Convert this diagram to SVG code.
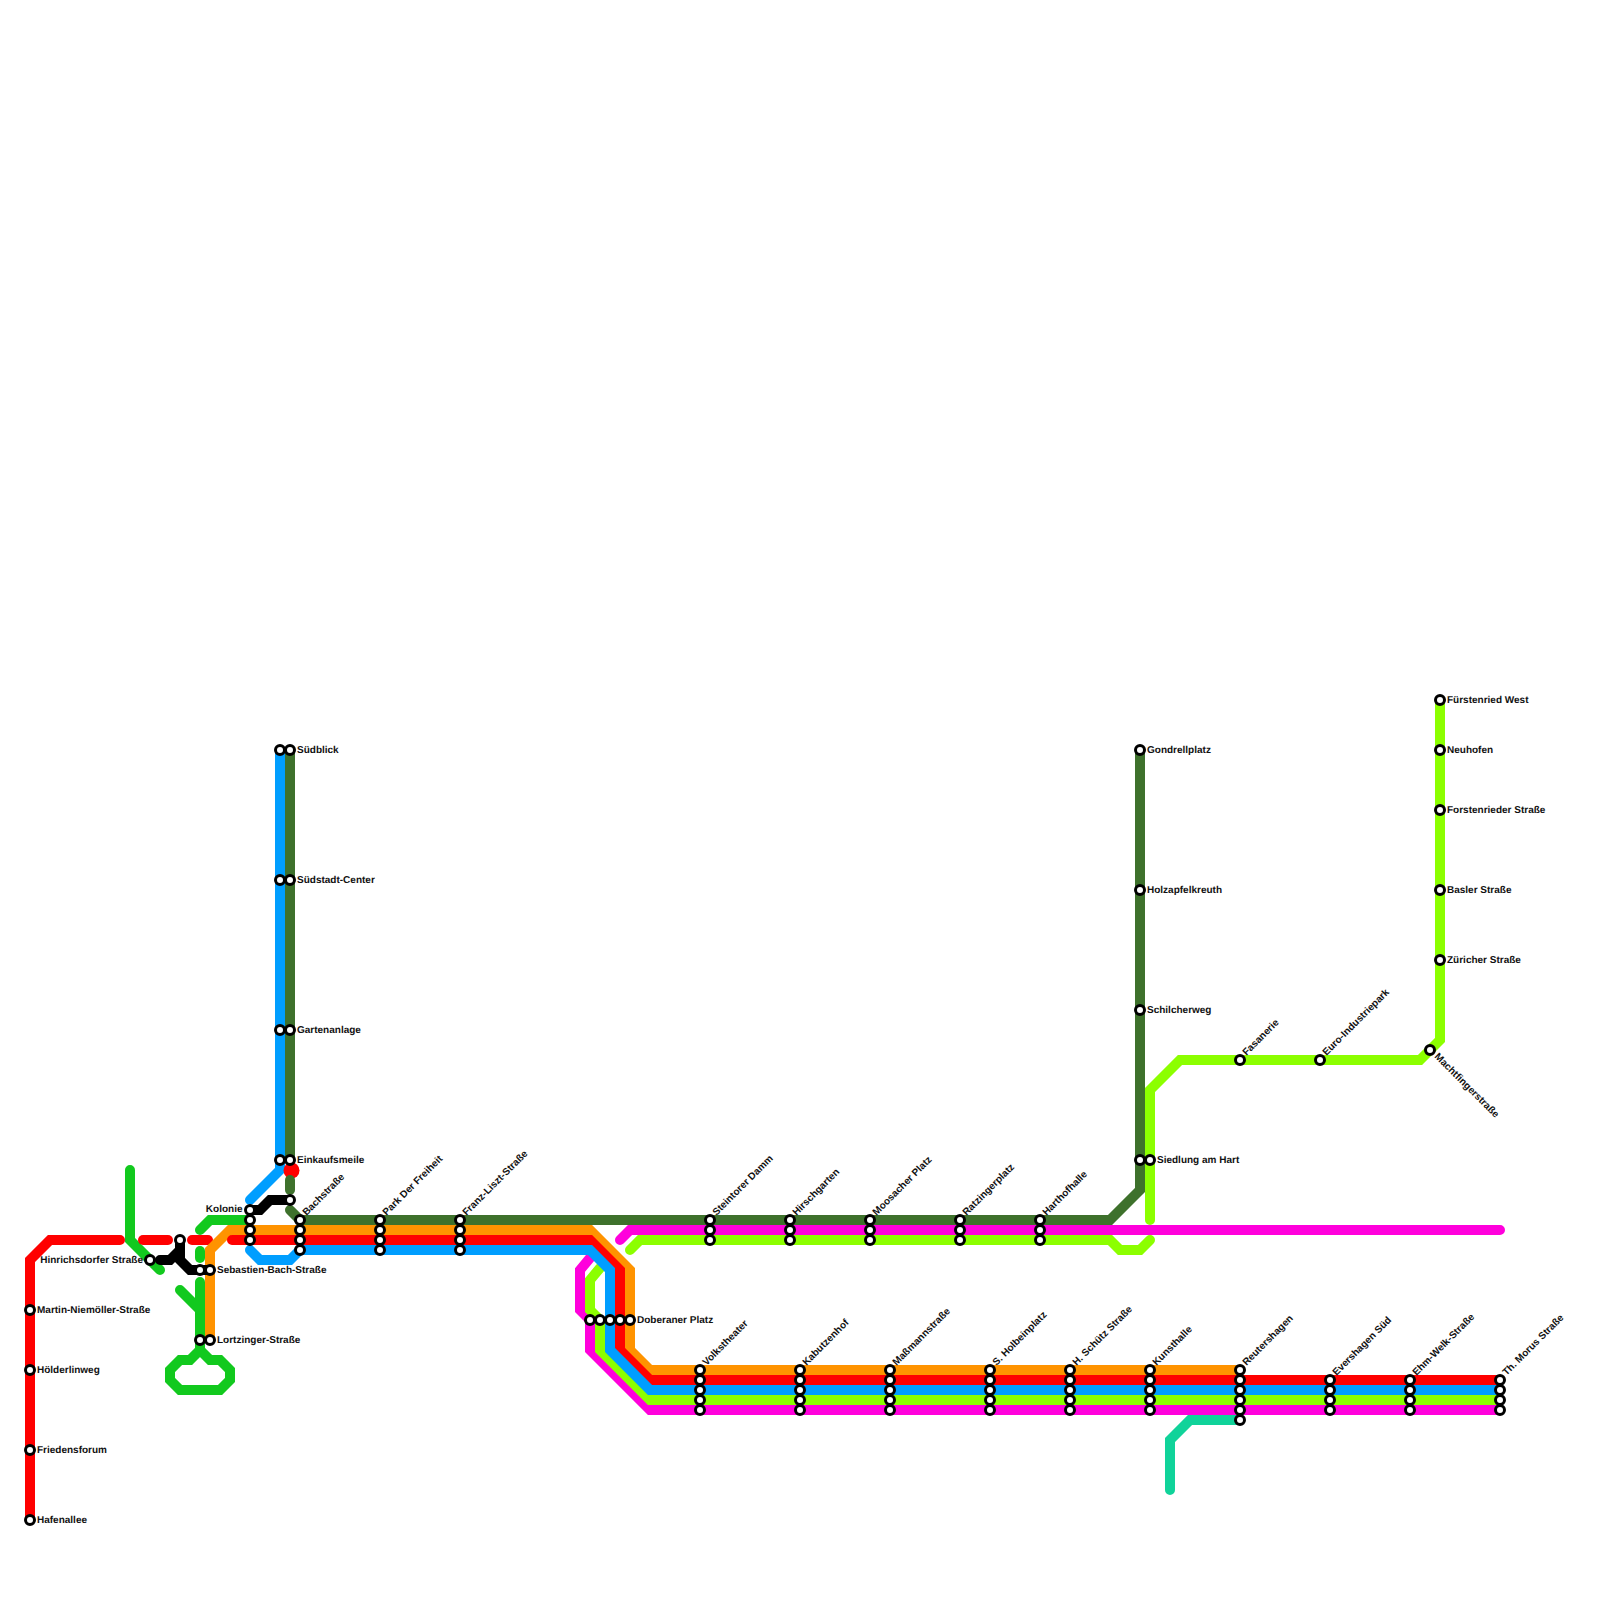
<svg xmlns="http://www.w3.org/2000/svg" width="1600" height="1600" viewBox="0 0 1600 1600">
<style>
.l{fill:none;stroke-width:10;stroke-linecap:round;stroke-linejoin:miter}
.red{stroke:#ff0000}.org{stroke:#ff9300}.blu{stroke:#009eff}.lim{stroke:#8cff00}.mag{stroke:#ff00dc}.dgr{stroke:#3e712c}.grn{stroke:#12c91e}.blk{stroke:#000}.tea{stroke:#10d39a}
circle.s{fill:#fff;stroke:#000;stroke-width:3;r:4.5px}
text{font-family:"Liberation Sans",Arial,sans-serif;font-size:10px;font-weight:bold;fill:#111;text-rendering:geometricPrecision}
.e{text-anchor:end}
</style>
<g id="connectors">
<path class="l grn" d="M130 1170V1240L160 1270"/>
<path class="l grn" d="M200 1230L210 1220H250"/>
<path class="l grn" d="M200 1251V1258"/>
<path class="l grn" d="M200 1282V1350L190 1360H180L170 1370V1380L180 1390H220L230 1380V1370L220 1360H210L200 1350"/>
<path class="l grn" d="M180 1290L200 1310"/>
<path class="l red" d="M30 1520V1260L50 1240H120"/>
<path class="l red" d="M143 1240H168"/>
<path class="l red" d="M192 1240H208"/>
<path class="l mag" d="M590 1258L580 1270V1310L590 1320V1350L650 1410H1500"/>
<path class="l lim" d="M600 1268L590 1280V1310L600 1320V1350L650 1400H1500"/>
<path class="l org" d="M210 1340V1250L230 1230H590L630 1270V1350L650 1370H1240"/>
<path class="l red" d="M232 1240H590L620 1270V1350L650 1380H1500"/>
<path class="l blu" d="M250 1200L280 1170V750"/>
<path class="l blu" d="M250 1250L260 1260H290L300 1250H590L610 1270V1350L650 1390H1500"/>
<path class="l dgr" d="M290 750V1160"/>
<circle cx="291.500" cy="1170.500" r="8" fill="#ff0000"/>
<path class="l dgr" d="M290 1180V1190"/>
<path class="l dgr" d="M290 1210L300 1220H1110L1140 1190V750"/>
<path class="l mag" d="M620 1240L630 1230H1500"/>
<path class="l lim" d="M630 1250L640 1240H1110L1120 1250H1140L1150 1240"/>
<path class="l lim" d="M1150 1220V1090L1180 1060H1420L1440 1040V700"/>
<path class="l tea" d="M1170 1490V1440L1190 1420H1240"/>
<path class="l blk" d="M160 1260H170L180 1250"/>
<path class="l blk" d="M180 1240V1260L190 1270H210"/>
<path class="l blk" d="M250 1210H260L270 1200H290"/>
</g>
<g id="n-hafenallee"><circle class="s" cx="30" cy="1520" r="4.500"/><text x="37" y="1522.500">Hafenallee</text></g>
<g id="n-friedensforum"><circle class="s" cx="30" cy="1450" r="4.500"/><text x="37" y="1452.500">Friedensforum</text></g>
<g id="n-hoelderlinweg"><circle class="s" cx="30" cy="1370" r="4.500"/><text x="37" y="1372.500">Hölderlinweg</text></g>
<g id="n-martin"><circle class="s" cx="30" cy="1310" r="4.500"/><text x="37" y="1312.500">Martin-Niemöller-Straße</text></g>
<g id="n-hinrichsdorfer"><circle class="s" cx="150" cy="1260" r="4.500"/><text class="e" x="143" y="1262.500">Hinrichsdorfer Straße</text></g>
<g id="n-x180"><circle class="s" cx="180" cy="1240" r="4.500"/></g>
<g id="n-sebastian"><circle class="s" cx="200" cy="1270" r="4.500"/><circle class="s" cx="210" cy="1270" r="4.500"/><text x="217" y="1272.500">Sebastien-Bach-Straße</text></g>
<g id="n-lortzinger"><circle class="s" cx="200" cy="1340" r="4.500"/><circle class="s" cx="210" cy="1340" r="4.500"/><text x="217" y="1342.500">Lortzinger-Straße</text></g>
<g id="n-kolonie"><circle class="s" cx="250" cy="1210" r="4.500"/><circle class="s" cx="250" cy="1220" r="4.500"/><circle class="s" cx="250" cy="1230" r="4.500"/><circle class="s" cx="250" cy="1240" r="4.500"/><text class="e" x="242.500" y="1212">Kolonie</text></g>
<g id="n-x290"><circle class="s" cx="290" cy="1200" r="4.500"/></g>
<g id="n-suedblick"><circle class="s" cx="280" cy="750" r="4.500"/><circle class="s" cx="290" cy="750" r="4.500"/><text x="297" y="752.500">Südblick</text></g>
<g id="n-suedstadt"><circle class="s" cx="280" cy="880" r="4.500"/><circle class="s" cx="290" cy="880" r="4.500"/><text x="297" y="882.500">Südstadt-Center</text></g>
<g id="n-gartenanlage"><circle class="s" cx="280" cy="1030" r="4.500"/><circle class="s" cx="290" cy="1030" r="4.500"/><text x="297" y="1032.500">Gartenanlage</text></g>
<g id="n-einkaufsmeile"><circle class="s" cx="280" cy="1160" r="4.500"/><circle class="s" cx="290" cy="1160" r="4.500"/><text x="297" y="1162.500">Einkaufsmeile</text></g>
<g id="n-bachstrasse"><circle class="s" cx="300" cy="1220" r="4.500"/><circle class="s" cx="300" cy="1230" r="4.500"/><circle class="s" cx="300" cy="1240" r="4.500"/><circle class="s" cx="300" cy="1250" r="4.500"/><text transform="translate(306.500 1216) rotate(-45)">Bachstraße</text></g>
<g id="n-park"><circle class="s" cx="380" cy="1220" r="4.500"/><circle class="s" cx="380" cy="1230" r="4.500"/><circle class="s" cx="380" cy="1240" r="4.500"/><circle class="s" cx="380" cy="1250" r="4.500"/><text transform="translate(386.500 1216) rotate(-45)">Park Der Freiheit</text></g>
<g id="n-franz"><circle class="s" cx="460" cy="1220" r="4.500"/><circle class="s" cx="460" cy="1230" r="4.500"/><circle class="s" cx="460" cy="1240" r="4.500"/><circle class="s" cx="460" cy="1250" r="4.500"/><text transform="translate(466.500 1216) rotate(-45)">Franz-Liszt-Straße</text></g>
<g id="n-doberaner"><circle class="s" cx="590" cy="1320" r="4.500"/><circle class="s" cx="600" cy="1320" r="4.500"/><circle class="s" cx="610" cy="1320" r="4.500"/><circle class="s" cx="620" cy="1320" r="4.500"/><circle class="s" cx="630" cy="1320" r="4.500"/><text x="637" y="1322.500">Doberaner Platz</text></g>
<g id="n-steintorer"><circle class="s" cx="710" cy="1220" r="4.500"/><circle class="s" cx="710" cy="1230" r="4.500"/><circle class="s" cx="710" cy="1240" r="4.500"/><text transform="translate(716.500 1216) rotate(-45)">Steintorer Damm</text></g>
<g id="n-hirschgarten"><circle class="s" cx="790" cy="1220" r="4.500"/><circle class="s" cx="790" cy="1230" r="4.500"/><circle class="s" cx="790" cy="1240" r="4.500"/><text transform="translate(796.500 1216) rotate(-45)">Hirschgarten</text></g>
<g id="n-moosacher"><circle class="s" cx="870" cy="1220" r="4.500"/><circle class="s" cx="870" cy="1230" r="4.500"/><circle class="s" cx="870" cy="1240" r="4.500"/><text transform="translate(876.500 1216) rotate(-45)">Moosacher Platz</text></g>
<g id="n-ratzinger"><circle class="s" cx="960" cy="1220" r="4.500"/><circle class="s" cx="960" cy="1230" r="4.500"/><circle class="s" cx="960" cy="1240" r="4.500"/><text transform="translate(966.500 1216) rotate(-45)">Ratzingerplatz</text></g>
<g id="n-harthof"><circle class="s" cx="1040" cy="1220" r="4.500"/><circle class="s" cx="1040" cy="1230" r="4.500"/><circle class="s" cx="1040" cy="1240" r="4.500"/><text transform="translate(1046.500 1216) rotate(-45)">Harthofhalle</text></g>
<g id="n-volkstheater"><circle class="s" cx="700" cy="1370" r="4.500"/><circle class="s" cx="700" cy="1380" r="4.500"/><circle class="s" cx="700" cy="1390" r="4.500"/><circle class="s" cx="700" cy="1400" r="4.500"/><circle class="s" cx="700" cy="1410" r="4.500"/><text transform="translate(706.500 1366) rotate(-45)">Volkstheater</text></g>
<g id="n-kabutzenhof"><circle class="s" cx="800" cy="1370" r="4.500"/><circle class="s" cx="800" cy="1380" r="4.500"/><circle class="s" cx="800" cy="1390" r="4.500"/><circle class="s" cx="800" cy="1400" r="4.500"/><circle class="s" cx="800" cy="1410" r="4.500"/><text transform="translate(806.500 1366) rotate(-45)">Kabutzenhof</text></g>
<g id="n-massmann"><circle class="s" cx="890" cy="1370" r="4.500"/><circle class="s" cx="890" cy="1380" r="4.500"/><circle class="s" cx="890" cy="1390" r="4.500"/><circle class="s" cx="890" cy="1400" r="4.500"/><circle class="s" cx="890" cy="1410" r="4.500"/><text transform="translate(896.500 1366) rotate(-45)">Maßmannstraße</text></g>
<g id="n-holbein"><circle class="s" cx="990" cy="1370" r="4.500"/><circle class="s" cx="990" cy="1380" r="4.500"/><circle class="s" cx="990" cy="1390" r="4.500"/><circle class="s" cx="990" cy="1400" r="4.500"/><circle class="s" cx="990" cy="1410" r="4.500"/><text transform="translate(996.500 1366) rotate(-45)">S. Holbeinplatz</text></g>
<g id="n-schuetz"><circle class="s" cx="1070" cy="1370" r="4.500"/><circle class="s" cx="1070" cy="1380" r="4.500"/><circle class="s" cx="1070" cy="1390" r="4.500"/><circle class="s" cx="1070" cy="1400" r="4.500"/><circle class="s" cx="1070" cy="1410" r="4.500"/><text transform="translate(1076.500 1366) rotate(-45)">H. Schütz Straße</text></g>
<g id="n-kunsthalle"><circle class="s" cx="1150" cy="1370" r="4.500"/><circle class="s" cx="1150" cy="1380" r="4.500"/><circle class="s" cx="1150" cy="1390" r="4.500"/><circle class="s" cx="1150" cy="1400" r="4.500"/><circle class="s" cx="1150" cy="1410" r="4.500"/><text transform="translate(1156.500 1366) rotate(-45)">Kunsthalle</text></g>
<g id="n-reutershagen"><circle class="s" cx="1240" cy="1370" r="4.500"/><circle class="s" cx="1240" cy="1380" r="4.500"/><circle class="s" cx="1240" cy="1390" r="4.500"/><circle class="s" cx="1240" cy="1400" r="4.500"/><circle class="s" cx="1240" cy="1410" r="4.500"/><circle class="s" cx="1240" cy="1420" r="4.500"/><text transform="translate(1246.500 1366) rotate(-45)">Reutershagen</text></g>
<g id="n-evershagen"><circle class="s" cx="1330" cy="1380" r="4.500"/><circle class="s" cx="1330" cy="1390" r="4.500"/><circle class="s" cx="1330" cy="1400" r="4.500"/><circle class="s" cx="1330" cy="1410" r="4.500"/><text transform="translate(1336.500 1376) rotate(-45)">Evershagen Süd</text></g>
<g id="n-ehm"><circle class="s" cx="1410" cy="1380" r="4.500"/><circle class="s" cx="1410" cy="1390" r="4.500"/><circle class="s" cx="1410" cy="1400" r="4.500"/><circle class="s" cx="1410" cy="1410" r="4.500"/><text transform="translate(1416.500 1376) rotate(-45)">Ehm-Welk-Straße</text></g>
<g id="n-morus"><circle class="s" cx="1500" cy="1380" r="4.500"/><circle class="s" cx="1500" cy="1390" r="4.500"/><circle class="s" cx="1500" cy="1400" r="4.500"/><circle class="s" cx="1500" cy="1410" r="4.500"/><text transform="translate(1506.500 1376) rotate(-45)">Th. Morus Straße</text></g>
<g id="n-gondrell"><circle class="s" cx="1140" cy="750" r="4.500"/><text x="1147" y="752.500">Gondrellplatz</text></g>
<g id="n-holzapfel"><circle class="s" cx="1140" cy="890" r="4.500"/><text x="1147" y="892.500">Holzapfelkreuth</text></g>
<g id="n-schilcher"><circle class="s" cx="1140" cy="1010" r="4.500"/><text x="1147" y="1012.500">Schilcherweg</text></g>
<g id="n-siedlung"><circle class="s" cx="1140" cy="1160" r="4.500"/><circle class="s" cx="1150" cy="1160" r="4.500"/><text x="1157" y="1162.500">Siedlung am Hart</text></g>
<g id="n-fasanerie"><circle class="s" cx="1240" cy="1060" r="4.500"/><text transform="translate(1246.500 1056) rotate(-45)">Fasanerie</text></g>
<g id="n-euro"><circle class="s" cx="1320" cy="1060" r="4.500"/><text transform="translate(1326.500 1056) rotate(-45)">Euro-Industriepark</text></g>
<g id="n-machtl"><circle class="s" cx="1430" cy="1050" r="4.500"/><text transform="translate(1434 1057) rotate(45)">Machtfingerstraße</text></g>
<g id="n-fuerstenried"><circle class="s" cx="1440" cy="700" r="4.500"/><text x="1447" y="702.500">Fürstenried West</text></g>
<g id="n-neuhofen"><circle class="s" cx="1440" cy="750" r="4.500"/><text x="1447" y="752.500">Neuhofen</text></g>
<g id="n-forstenrieder"><circle class="s" cx="1440" cy="810" r="4.500"/><text x="1447" y="812.500">Forstenrieder Straße</text></g>
<g id="n-basler"><circle class="s" cx="1440" cy="890" r="4.500"/><text x="1447" y="892.500">Basler Straße</text></g>
<g id="n-zuericher"><circle class="s" cx="1440" cy="960" r="4.500"/><text x="1447" y="962.500">Züricher Straße</text></g>
</svg>
